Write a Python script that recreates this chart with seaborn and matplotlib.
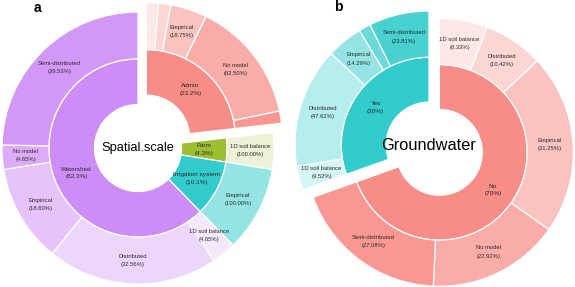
import numpy as np
import matplotlib
matplotlib.use("Agg")
import matplotlib.pyplot as plt
import seaborn as sns
from matplotlib.colors import to_rgb

sns.set_theme(style="white")
plt.rcParams['font.family'] = ['Liberation Sans', 'DejaVu Sans']

# ---------------- data ----------------
methods = ["1D soil balance", "Distributed", "Empirical", "No model", "Semi-distributed"]
method_alpha = [0.2, 0.36, 0.52, 0.72, 0.9]

scale_groups = ["Admin", "Farm", "Irrigation system", "Watershed"]
scale_counts = [16, 3, 7, 43]
scale_colors = ["#F88C86", "#9BBF30", "#33CCCC", "#CE8CF6"]
scale_children = [
    [1, 1, 3, 10, 1],
    [3, 0, 0, 0, 0],
    [0, 0, 7, 0, 0],
    [2, 14, 8, 2, 17],
]

gw_groups = ["No", "Yes"]
gw_counts = [48, 21]
gw_colors = ["#F88C86", "#33CCCC"]
gw_children = [
    [4, 5, 15, 11, 13],
    [2, 10, 3, 1, 5],
]


def blend(col, a):
    c = np.array(to_rgb(col))
    return tuple(c * a + (1 - a))


TXT = "#2b2b2b"


def sunburst(ax, center, R, title, title_size, groups, counts, colors, children,
             pull_index, pull, pct_dec):
    total = sum(counts)
    r_hole, r_mid = 0.32 * R, 0.655 * R
    start = 90.0
    ep = dict(edgecolor="white", linewidth=0.9)
    for i, (g, n, col, ch) in enumerate(zip(groups, counts, colors, children)):
        frac = n / total
        mid = start - 180.0 * frac
        off = pull * R if i == pull_index else 0.0
        cx = center[0] + off * np.cos(np.radians(mid))
        cy = center[1] + off * np.sin(np.radians(mid))
        # inner ring
        w_in, _ = ax.pie([frac], normalize=False, startangle=start, counterclock=False,
                         radius=r_mid, center=(cx, cy), colors=[col], frame=True,
                         wedgeprops=dict(width=r_mid - r_hole, **ep))
        w = w_in[0]
        th = np.radians((w.theta1 + w.theta2) / 2)
        rr = (r_hole + r_mid) / 2
        ax.text(cx + rr * np.cos(th), cy + rr * np.sin(th),
                f"{g}\n({100 * n / total:.{pct_dec}f}%)", ha="center", va="center",
                fontsize=4.6, color=TXT, linespacing=1.7)
        # outer ring
        vals, labs, cols = [], [], []
        for m, a, c in zip(methods, method_alpha, ch):
            if c > 0:
                vals.append(c / n * frac)
                labs.append(f"{m}\n({100 * c / n:.2f}%)")
                cols.append(blend(col, a))
        w_out, _ = ax.pie(vals, normalize=False, startangle=start, counterclock=False,
                          radius=R, center=(cx, cy), colors=cols, frame=True,
                          wedgeprops=dict(width=R - r_mid, **ep))
        for w, lab in zip(w_out, labs):
            span = abs(w.theta2 - w.theta1)
            if span < 8:
                continue
            th = np.radians((w.theta1 + w.theta2) / 2)
            rr = (r_mid + R) / 2
            ax.text(cx + rr * np.cos(th), cy + rr * np.sin(th), lab,
                    ha="center", va="center", fontsize=4.2, color=TXT, linespacing=1.8)
        start -= 360.0 * frac
    ax.text(center[0], center[1], title, ha="center", va="center",
            fontsize=title_size, color="black")


fig = plt.figure(figsize=(5.75, 2.87), dpi=100)
ax = fig.add_axes([0, 0, 1, 1])

sunburst(ax, (138, 139), 136, "Spatial.scale", 9.3, scale_groups, scale_counts,
         scale_colors, scale_children, pull_index=0, pull=0.092, pct_dec=1)
sunburst(ax, (429, 142), 134, "Groundwater", 11.8, gw_groups, gw_counts,
         gw_colors, gw_children, pull_index=0, pull=0.095, pct_dec=0)

ax.text(37, 279, "a", ha="center", va="center", fontsize=10, fontweight="bold", color="black")
ax.text(338, 280, "b", ha="center", va="center", fontsize=10, fontweight="bold", color="black")

ax.set_xlim(0, 575)
ax.set_ylim(0, 287)
ax.set_aspect("equal")
ax.axis("off")

fig.savefig("out.png", dpi=100, facecolor="white")
